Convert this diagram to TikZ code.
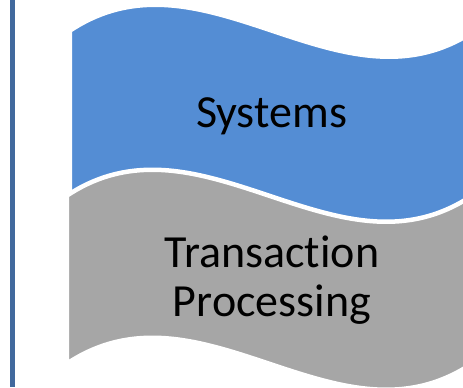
\documentclass[tikz,border=0pt]{standalone}
\usepackage{fontspec}
\setmainfont{Carlito}[Ligatures={NoCommon,NoContextual}]
\definecolor{bandblue}{HTML}{548DD4}
\definecolor{bandgray}{HTML}{A6A6A6}
\definecolor{railblue}{HTML}{41699D}
\begin{document}
\begin{tikzpicture}[x=1pt,y=-1pt,
  band/.style={draw=white,line width=4.5pt,line join=round},
  bandtext/.style={font=\fontsize{46}{49}\selectfont,text=black,inner sep=0pt,anchor=base}]
  \useasboundingbox (0,0) rectangle (463,388);
  \begin{scope}
    \clip (0,0) rectangle (463,388);
    % left rail
    \draw[railblue,line width=5pt] (12.5,0) -- (12.5,387);
    % upper wave band
    \path[band,fill=bandblue]
      (69.75,30.75) .. controls (204.75,-59.25) and (339.75,120.75) .. (474.75,30.75)
      -- (474.75,198.75)
      .. controls (339.75,288.75) and (204.75,108.75) .. (69.75,198.75) -- cycle;
    % lower wave band
    \path[band,fill=bandgray]
      (66.75,195.75) .. controls (201.75,105.75) and (336.75,285.75) .. (471.75,195.75)
      -- (471.75,363.75)
      .. controls (336.75,453.75) and (201.75,273.75) .. (66.75,363.75) -- cycle;
  \end{scope}
  \node[bandtext] (sys) at (271.5,127.7) {Systems};
  % \kern0pt keeps the t and i as separate glyphs
  \node[bandtext] (tp1) at (272,267.7) {Transact\kern0pt ion};
  \node[bandtext] (tp2) at (272,316.7) {Processing};
\end{tikzpicture}
\end{document}
